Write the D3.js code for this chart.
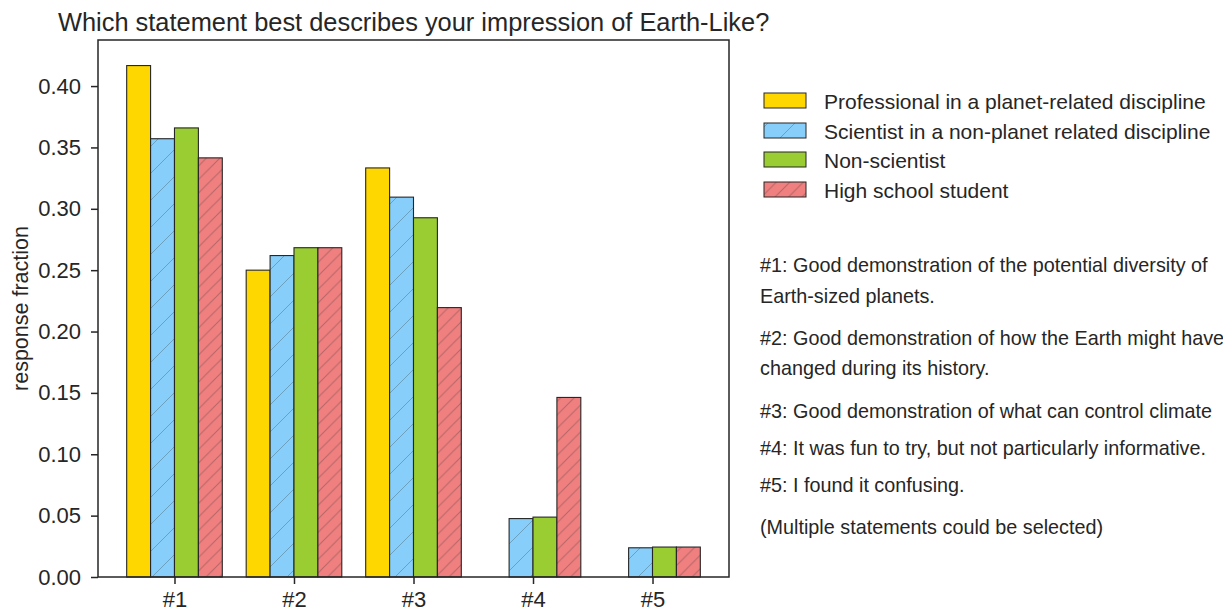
<!DOCTYPE html>
<html>
<head>
<meta charset="utf-8">
<script src="https://cdn.jsdelivr.net/npm/d3@7"></script>
<style>
  html, body { margin: 0; padding: 0; background: #fff; }
  svg { display: block; font-family: "Liberation Sans", Arial, sans-serif; }
</style>
</head>
<body>
<svg id="chart" width="1223" height="612"></svg>
<script>
// ---- data ----
const categories = ["#1", "#2", "#3", "#4", "#5"];
const seriesNames = [
  "Professional in a planet-related discipline",
  "Scientist in a non-planet related discipline",
  "Non-scientist",
  "High school student"
];
const professional = [0.4167, 0.2500, 0.3333, 0.0000, 0.0000];
const scientist    = [0.3571, 0.2619, 0.3095, 0.0476, 0.0238];
const nonScientist = [0.3659, 0.2683, 0.2927, 0.0488, 0.0244];
const highSchool   = [0.3415, 0.2683, 0.2195, 0.1463, 0.0244];
const yTicks = [0.00, 0.05, 0.10, 0.15, 0.20, 0.25, 0.30, 0.35, 0.40];
const notes = [
  "#1: Good demonstration of the potential diversity of",
  "Earth-sized planets.",
  "#2: Good demonstration of how the Earth might have",
  "changed during its history.",
  "#3: Good demonstration of what can control climate",
  "#4: It was fun to try, but not particularly informative.",
  "#5: I found it confusing.",
  "(Multiple statements could be selected)"
];
const titleText = "Which statement best describes your impression of Earth-Like?";

// ---- styling ----
const colors = ["#FFD700", "#87CEFA", "#9ACD32", "#F08080"];
const hatches = [null, "single", null, "double"];
const ink = "#262626";

const svg = d3.select("#chart");
const m = { left: 98, right: 729, top: 40, bottom: 577 };

const allValues = [professional, scientist, nonScientist, highSchool];
const nGroups = categories.length;
const barW = 0.2;

const x = d3.scaleLinear().domain([-0.64, nGroups - 1 + 0.64]).range([m.left, m.right]);
const yMax = d3.max(allValues.flat()) * 1.05;
const y = d3.scaleLinear().domain([0, yMax]).range([m.bottom, m.top]);

// hatch patterns
const defs = svg.append("defs");
function addHatch(id, spacing, color) {
  const p = defs.append("pattern").attr("id", id)
    .attr("patternUnits", "userSpaceOnUse")
    .attr("width", spacing).attr("height", spacing);
  p.append("path")
    .attr("d", `M0,${spacing} L${spacing},0 M${-spacing/2},${spacing/2} L${spacing/2},${-spacing/2} M${spacing/2},${spacing*1.5} L${spacing*1.5},${spacing/2}`)
    .attr("stroke", color).attr("stroke-width", 1);
}
addHatch("hatch-single", 27, "rgba(40,40,40,0.28)");
addHatch("hatch-double", 13.5, "rgba(40,40,40,0.3)");

// bars
const gBars = svg.append("g");
allValues.forEach((vals, s) => {
  const offset = -0.4 + s * barW;
  const g = gBars.append("g");
  const rows = vals.map((v, i) => ({ i, v }));
  g.selectAll("rect.fill").data(rows).enter().append("rect")
    .attr("x", d => x(d.i + offset))
    .attr("width", d => x(d.i + offset + barW) - x(d.i + offset))
    .attr("y", d => y(d.v))
    .attr("height", d => y(0) - y(d.v))
    .attr("fill", colors[s]);
  if (hatches[s]) {
    g.selectAll("rect.hatch").data(rows).enter().append("rect")
      .attr("x", d => x(d.i + offset))
      .attr("width", d => x(d.i + offset + barW) - x(d.i + offset))
      .attr("y", d => y(d.v))
      .attr("height", d => y(0) - y(d.v))
      .attr("fill", `url(#hatch-${hatches[s]})`);
  }
  g.selectAll("rect.edge").data(rows.filter(d => d.v > 0)).enter().append("rect")
    .attr("x", d => x(d.i + offset))
    .attr("width", d => x(d.i + offset + barW) - x(d.i + offset))
    .attr("y", d => y(d.v))
    .attr("height", d => y(0) - y(d.v))
    .attr("fill", "none").attr("stroke", ink).attr("stroke-width", 1.1);
});

// frame
svg.append("rect")
  .attr("x", m.left).attr("y", m.top)
  .attr("width", m.right - m.left).attr("height", m.bottom - m.top)
  .attr("fill", "none").attr("stroke", ink).attr("stroke-width", 1.5);

// axes
const yAxis = d3.axisLeft(y).tickValues(yTicks).tickFormat(d3.format(".2f")).tickSize(7).tickPadding(10);
const gy = svg.append("g").attr("transform", `translate(${m.left},0)`).call(yAxis);
gy.select(".domain").remove();
gy.selectAll("line").attr("stroke", ink).attr("stroke-width", 1.5);
gy.selectAll("text").attr("fill", ink).style("font-size", "22px");

const xAxis = d3.axisBottom(x).tickValues(d3.range(nGroups)).tickFormat(i => categories[i]).tickSize(7).tickPadding(7);
const gx = svg.append("g").attr("transform", `translate(0,${m.bottom})`).call(xAxis);
gx.select(".domain").remove();
gx.selectAll("line").attr("stroke", ink).attr("stroke-width", 1.5);
gx.selectAll("text").attr("fill", ink).style("font-size", "22px");

// y label
svg.append("text")
  .attr("transform", `translate(21,${(m.top + m.bottom) / 2}) rotate(-90)`)
  .attr("text-anchor", "middle").attr("dominant-baseline", "central")
  .attr("fill", ink).style("font-size", "21.5px")
  .text("response fraction");

// title
svg.append("text")
  .attr("x", 58).attr("y", 22).attr("dominant-baseline", "central")
  .attr("fill", ink).style("font-size", "25.4px")
  .text(titleText);

// legend
const legendY = [101, 131, 160, 190];
const gl = svg.append("g");
seriesNames.forEach((name, s) => {
  const cy = legendY[s];
  gl.append("rect").attr("x", 764).attr("y", cy - 8).attr("width", 42).attr("height", 15)
    .attr("fill", colors[s]);
  if (hatches[s]) {
    gl.append("rect").attr("x", 764).attr("y", cy - 8).attr("width", 42).attr("height", 15)
      .attr("fill", `url(#hatch-${hatches[s]})`);
  }
  gl.append("rect").attr("x", 764).attr("y", cy - 8).attr("width", 42).attr("height", 15)
    .attr("fill", "none").attr("stroke", ink).attr("stroke-width", 1);
  gl.append("text").attr("x", 824).attr("y", cy).attr("dominant-baseline", "central")
    .attr("fill", ink).style("font-size", "21px").text(name);
});

// notes
const noteY = [265, 296, 338, 368, 411, 448, 485, 527];
svg.append("g").selectAll("text").data(notes).enter().append("text")
  .attr("x", 760).attr("y", (d, i) => noteY[i]).attr("dominant-baseline", "central")
  .attr("fill", ink).style("font-size", "19.8px").text(d => d);
</script>
</body>
</html>
